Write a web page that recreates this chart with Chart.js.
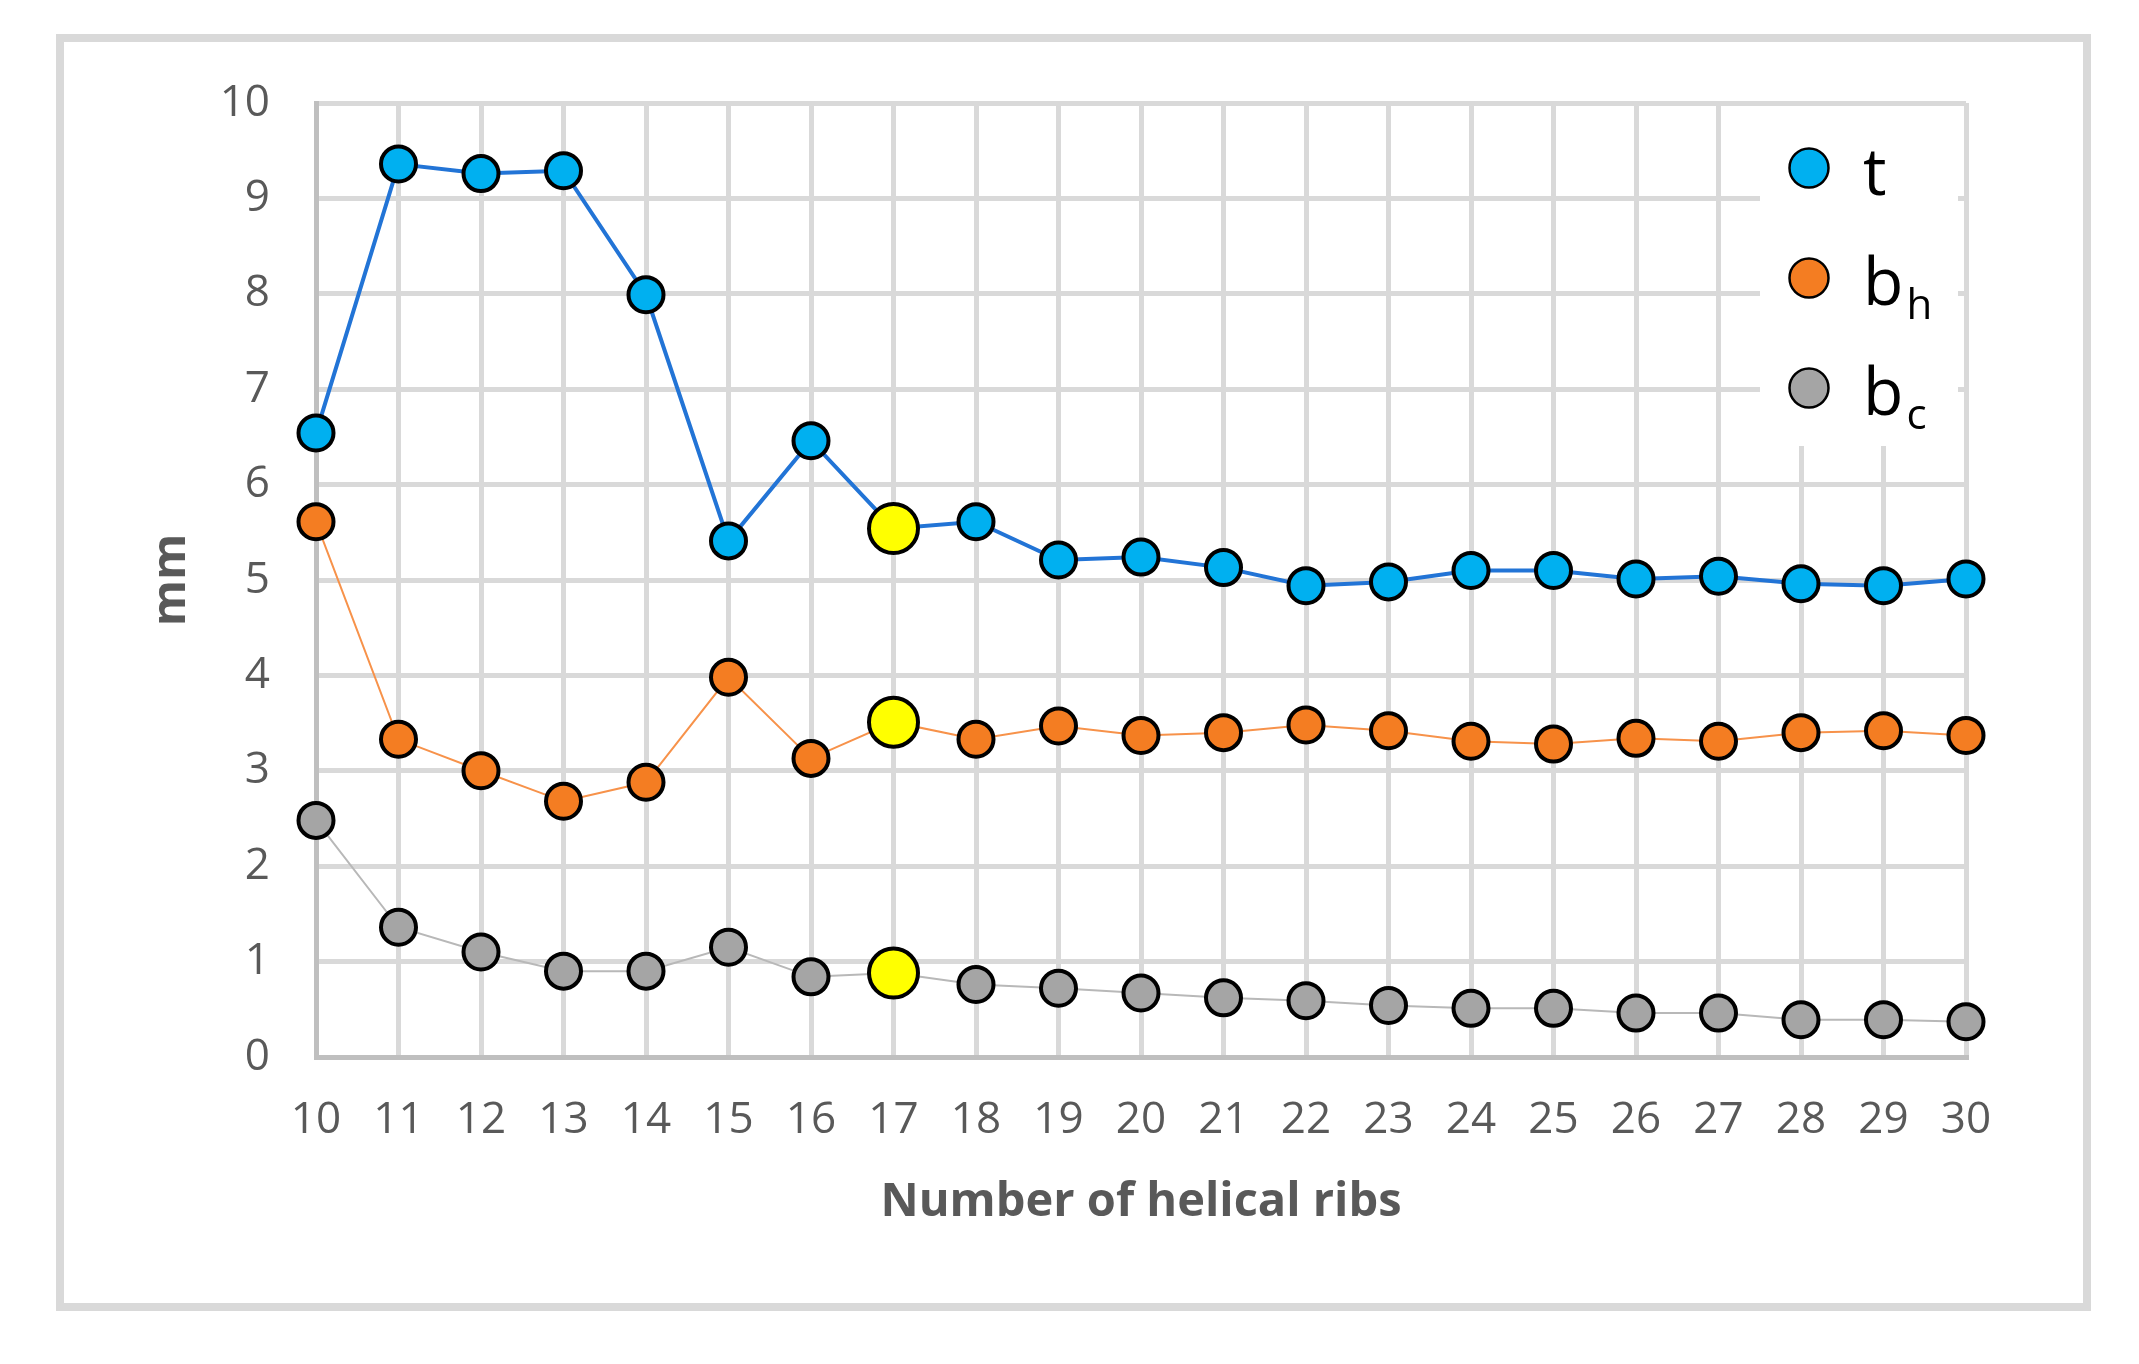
<!DOCTYPE html>
<html>
<head>
<meta charset="utf-8">
<script src="https://cdn.jsdelivr.net/npm/chart.js@4.4.1/dist/chart.umd.min.js"></script>
<style>
  html, body { margin: 0; padding: 0; background: #ffffff; }
  #wrap { position: relative; width: 2139px; height: 1364px; }
  #frame { position: absolute; left: 56px; top: 34px; width: 2035px; height: 1277px;
           border: 8px solid #d9d9d9; box-sizing: border-box; }
  #c { position: absolute; left: 0; top: 0; }
</style>
</head>
<body>
<div id="wrap">
  <div id="frame"></div>
  <canvas id="c" width="2139" height="1364"></canvas>
</div>
<script>
// ---- data ----
const ribs = ['10','11','12','13','14','15','16','17','18','19','20','21','22','23','24','25','26','27','28','29','30'];
const tValues  = [6.54, 9.36, 9.26, 9.29, 7.99, 5.41, 6.46, 5.54, 5.61, 5.21, 5.24, 5.13, 4.94, 4.98, 5.10, 5.10, 5.01, 5.04, 4.96, 4.94, 5.01];
const bhValues = [5.61, 3.33, 3.00, 2.68, 2.88, 3.98, 3.13, 3.51, 3.33, 3.47, 3.37, 3.40, 3.48, 3.42, 3.31, 3.28, 3.34, 3.31, 3.40, 3.42, 3.37];
const bcValues = [2.48, 1.36, 1.10, 0.90, 0.90, 1.15, 0.84, 0.88, 0.76, 0.72, 0.67, 0.62, 0.59, 0.54, 0.51, 0.51, 0.46, 0.46, 0.39, 0.39, 0.37];
const seriesLabels = ['t', 'bh', 'bc'];
const legendMain = ['t', 'b', 'b'];
const legendSub  = ['', 'h', 'c'];
const highlightedRibs = '17';
const yMin = 0, yMax = 10, yStep = 1;
const xTitle = 'Number of helical ribs';
const yTitle = 'mm';

// ---- styles ----
const fills = ['#00b0f0', '#f47d22', '#a5a5a5'];
const lines = ['#2274d6', '#f7924a', '#b8b8b8'];
const lineWidths = [4, 2, 2];
const highlightFill = '#ffff00';
const tickFont = { family: '"Open Sans", "DejaVu Sans", sans-serif', size: 44, weight: 'normal' };
const titleFont = { family: '"Open Sans", "DejaVu Sans", sans-serif', size: 47, weight: 'bold' };
const textGray = '#595959';

function pointFills(i) { return ribs.map(r => r === highlightedRibs ? highlightFill : fills[i]); }
function pointRadii() { return ribs.map(r => r === highlightedRibs ? 24.5 : 17.5); }

const allSeries = [tValues, bhValues, bcValues];
const datasets = allSeries.map((vals, i) => ({
  label: seriesLabels[i],
  data: vals,
  borderColor: lines[i],
  borderWidth: lineWidths[i],
  backgroundColor: fills[i],
  pointBackgroundColor: pointFills(i),
  pointBorderColor: '#000000',
  pointBorderWidth: 4,
  pointRadius: pointRadii(),
  pointHoverRadius: pointRadii(),
  tension: 0,
  clip: false
}));

const insideLegend = {
  id: 'insideLegend',
  beforeDatasetsDraw(chart) {
    const { ctx, chartArea } = chart;
    ctx.save();
    ctx.fillStyle = '#ffffff';
    ctx.fillRect(chartArea.right - 206, chartArea.top + 3, 198, 340);
    ctx.restore();
  },
  afterDatasetsDraw(chart) {
    const { ctx, chartArea } = chart;
    ctx.save();
    chart.data.datasets.forEach((ds, i) => {
      const cx = chartArea.right - 157;
      const cy = chartArea.top + 65 + i * 110;
      ctx.beginPath();
      ctx.arc(cx, cy, 19.5, 0, Math.PI * 2);
      ctx.fillStyle = fills[i];
      ctx.fill();
      ctx.lineWidth = 2.5;
      ctx.strokeStyle = '#000000';
      ctx.stroke();
      ctx.fillStyle = '#000000';
      ctx.textAlign = 'left';
      ctx.textBaseline = 'alphabetic';
      ctx.font = '66px "Open Sans", "DejaVu Sans", sans-serif';
      const tx = cx + 54;
      const by = cy + 27;
      ctx.fillText(legendMain[i], tx, by);
      const w = ctx.measureText(legendMain[i]).width;
      if (legendSub[i]) {
        ctx.font = '42px "Open Sans", "DejaVu Sans", sans-serif';
        ctx.fillText(legendSub[i], tx + w + 3, by + 14);
      }
    });
    ctx.restore();
  }
};

new Chart(document.getElementById('c'), {
  type: 'line',
  data: { labels: ribs, datasets },
  plugins: [insideLegend],
  options: {
    responsive: false,
    animation: false,
    devicePixelRatio: 1,
    layout: { padding: { left: 100, top: 103, right: 173, bottom: 100 } },
    plugins: { legend: { display: false }, tooltip: { enabled: false } },
    scales: {
      x: {
        type: 'category',
        offset: false,
        grid: { color: '#d9d9d9', lineWidth: 5, drawTicks: false },
        border: { color: '#bfbfbf', width: 5 },
        ticks: { font: tickFont, color: textGray, padding: 37, maxRotation: 0, autoSkip: false },
        title: { display: true, text: xTitle, font: titleFont, color: textGray, padding: { top: 0, bottom: 33 } },
        afterFit(scale) { scale.height = 207; }
      },
      y: {
        min: yMin, max: yMax,
        grid: { color: '#d9d9d9', lineWidth: 5, drawTicks: false },
        border: { color: '#bfbfbf', width: 5 },
        ticks: { stepSize: yStep, font: tickFont, color: textGray, padding: 46 },
        title: { display: true, text: yTitle, font: titleFont, color: textGray, padding: { top: 43, bottom: 0 } },
        afterFit(scale) { scale.width = 216; }
      }
    }
  }
});
</script>
</body>
</html>
